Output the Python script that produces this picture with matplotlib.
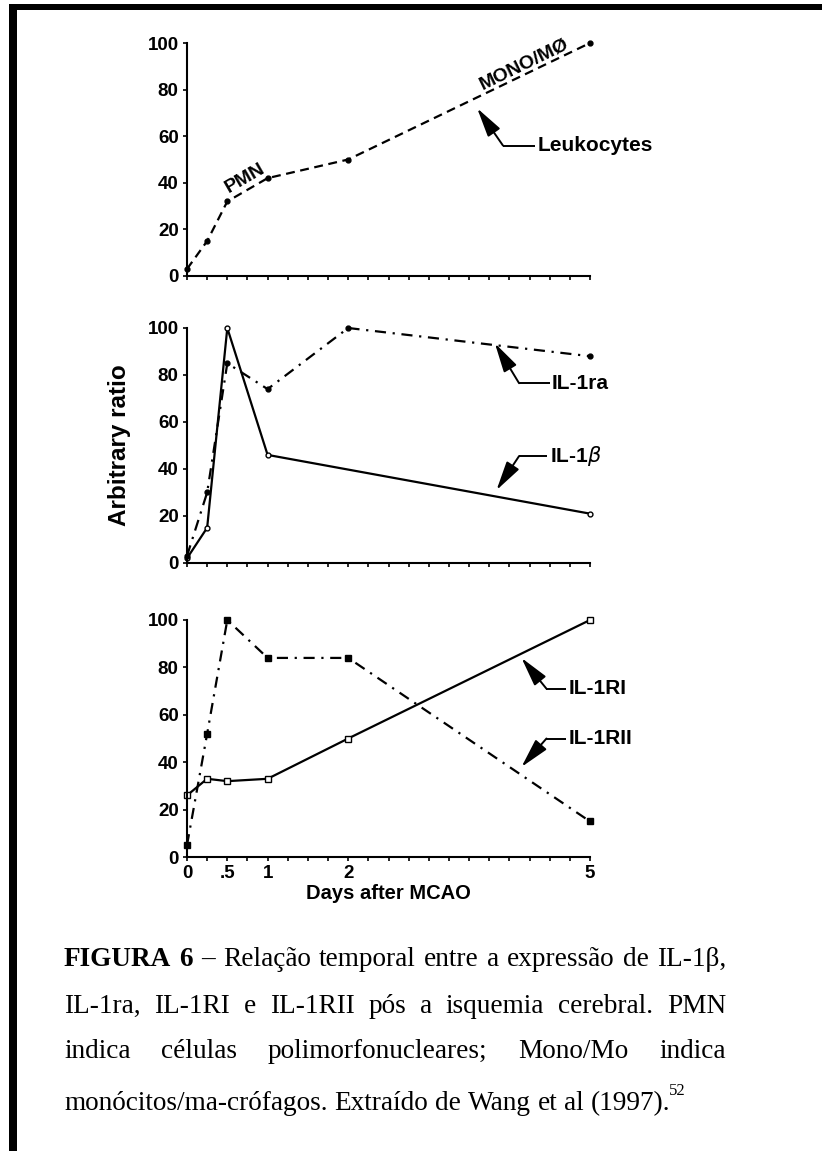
import numpy as np
import matplotlib
matplotlib.use('Agg')
from matplotlib import pyplot as plt
from matplotlib.patches import Rectangle

# dias apos MCAO / valores (razao arbitraria)
leuk_x = [0, 0.25, 0.5, 1, 2, 5]
leuk_y = [3, 15, 32, 42, 50, 100]

il1b_x = [0, 0.25, 0.5, 1, 5]
il1b_y = [2, 15, 100, 46, 21]

il1ra_x = [0, 0.25, 0.5, 1, 2, 5]
il1ra_y = [3, 30, 85, 74, 100, 88]

il1ri_x = [0, 0.25, 0.5, 1, 2, 5]
il1ri_y = [26, 33, 32, 33, 50, 100]

il1rii_x = [0, 0.25, 0.5, 1, 2, 5]
il1rii_y = [5, 52, 100, 84, 84, 15]

yticks = [0, 20, 40, 60, 80, 100]
xticks = np.arange(0, 5.01, 0.25)
xlabels = {0: '0', 0.5: '.5', 1: '1', 2: '2', 5: '5'}

caption = [
    [('FIGURA', 'bold'), ('6', 'bold'), ('–', 'normal'), ('Relação', 'normal'), ('temporal', 'normal'),
     ('entre', 'normal'), ('a', 'normal'), ('expressão', 'normal'), ('de', 'normal'), ('IL-1β,', 'normal')],
    'IL-1ra, IL-1RI e IL-1RII pós a isquemia cerebral. PMN',
    'indica células polimorfonucleares; Mono/Mo indica',
    'monócitos/ma-crófagos. Extraído de Wang et al (1997).',
]

W, H = 822, 1151
SANS = ['Liberation Sans', 'DejaVu Sans']
SERIF = ['Liberation Serif', 'DejaVu Serif']

fig = plt.figure(figsize=(W / 100, H / 100), dpi=100)
fig.patch.set_facecolor('white')

# moldura (so topo e esquerda)
fig.add_artist(Rectangle((9 / W, 1 - 10 / H), 1, 6 / H, transform=fig.transFigure, color='k', lw=0))
fig.add_artist(Rectangle((9 / W, 0), 8 / W, 1 - 4 / H, transform=fig.transFigure, color='k', lw=0))


def make_axes(top100, bottom0, show_labels):
    ax = fig.add_axes([187 / W, 1 - bottom0 / H, (590 - 187) / W, (bottom0 - top100) / H])
    ax.set_xlim(0, 5)
    ax.set_ylim(0, 100)
    for s in ['top', 'right']:
        ax.spines[s].set_visible(False)
    for s in ['left', 'bottom']:
        ax.spines[s].set_linewidth(1.5)
    ax.set_yticks(yticks)
    ax.set_yticklabels([str(v) for v in yticks], fontsize=13.5, fontweight='bold', family=SANS)
    ax.set_xticks(xticks)
    if show_labels:
        ax.set_xticklabels([xlabels.get(float(t), '') for t in xticks],
                           fontsize=13.5, fontweight='bold', family=SANS)
    else:
        ax.set_xticklabels([])
    ax.tick_params(axis='both', direction='out', length=3, width=1.2, pad=3)
    return ax


def callout(ax, label, text_xy, bend_xy, tip_xy):
    ax.text(text_xy[0], text_xy[1], label, ha='left', va='center', fontsize=15,
            fontweight='bold', family=SANS, clip_on=False)
    ax.plot([text_xy[0] - 0.03, bend_xy[0]], [text_xy[1], bend_xy[1]], color='k', lw=1.4,
            clip_on=False, solid_capstyle='butt')
    ax.annotate('', xy=tip_xy, xytext=bend_xy, annotation_clip=False,
                arrowprops=dict(arrowstyle='-|>,head_length=1.8,head_width=0.45', color='k',
                                lw=1.4, shrinkA=0, shrinkB=0))


# painel 1 - leucocitos
ax1 = make_axes(43, 276, False)
ax1.plot(leuk_x, leuk_y, color='k', lw=1.6, ls=(0, (4, 2.5)), marker='o', ms=3.5, clip_on=False)
ax1.text(0.72, 42, 'PMN', rotation=30, ha='center', va='center', fontsize=14,
         fontweight='bold', family=SANS)
ax1.text(4.18, 91, 'MONO/MØ', rotation=26, ha='center', va='center', fontsize=14,
         fontweight='bold', family=SANS, clip_on=False)
callout(ax1, 'Leukocytes', (4.35, 56), (3.92, 56), (3.6, 72))

# painel 2 - IL-1b e IL-1ra
ax2 = make_axes(328, 563, False)
ax2.plot(il1b_x, il1b_y, color='k', lw=1.6, ls='-', marker='o', ms=3.5, mfc='white', clip_on=False)
ax2.plot(il1ra_x, il1ra_y, color='k', lw=1.6, ls=(0, (5, 3, 1, 3)), marker='o', ms=3.5, clip_on=False)
ax2.set_ylabel('Arbitrary ratio', fontsize=17.5, fontweight='bold', family=SANS, labelpad=12)
callout(ax2, 'IL-1ra', (4.53, 76.5), (4.12, 76.5), (3.82, 93.5))
callout(ax2, 'IL-1$\\beta$', (4.5, 45.5), (4.12, 45.5), (3.84, 31))

# painel 3 - IL-1RI e IL-1RII
ax3 = make_axes(620, 857, True)
ax3.plot(il1ri_x, il1ri_y, color='k', lw=1.6, ls='-', marker='s', ms=4.5, mfc='white', clip_on=False)
ax3.plot(il1rii_x, il1rii_y, color='k', lw=1.6, ls=(0, (5, 3, 1, 3)), marker='s', ms=4, clip_on=False)
ax3.set_xlabel('Days after MCAO', fontsize=14.5, fontweight='bold', family=SANS, labelpad=1)
callout(ax3, 'IL-1RI', (4.73, 71), (4.46, 71), (4.15, 84))
callout(ax3, 'IL-1RII', (4.73, 50), (4.46, 50), (4.15, 38))

# legenda da figura, justificada
renderer = fig.canvas.get_renderer()
left, right = 64, 726
baselines = [966, 1013, 1058, 1110]


def words_of(line):
    if isinstance(line, str):
        return [(w, 'normal') for w in line.split(' ')]
    return line


def natural_width(words, fs):
    tmp = [fig.text(0, 0, w, fontsize=fs, fontweight=wt, family=SERIF) for w, wt in words]
    total = sum(t.get_window_extent(renderer).width for t in tmp)
    for t in tmp:
        t.remove()
    return total + (len(words) - 1) * fs * 1.389 * 0.25


# tamanho da fonte escolhido para a primeira linha caber com espacos normais
fs = 18.0
fs = fs * (right - left) * 0.985 / natural_width(words_of(caption[0]), fs)
fs = min(fs, 20.5)


def place_words(words, base, justify):
    items = []
    for w, weight in words:
        t = fig.text(0, 1 - base / H, w, fontsize=fs, fontweight=weight, family=SERIF,
                     va='baseline', ha='left')
        items.append(t)
    widths = [t.get_window_extent(renderer).width for t in items]
    space = fs * 1.389 * 0.25
    if justify and len(items) > 1:
        space = (right - left - sum(widths)) / (len(items) - 1)
    x = left
    for t, wd in zip(items, widths):
        t.set_x(x / W)
        x += wd + space
    return x - space


for i, line in enumerate(caption):
    end = place_words(words_of(line), baselines[i], i < 3)
    if i == 3:
        fig.text((end - 1) / W, 1 - (baselines[i] - 15) / H, '52', fontsize=12, family=SERIF,
                 va='baseline', ha='left')

fig.savefig('out.png', dpi=100)
